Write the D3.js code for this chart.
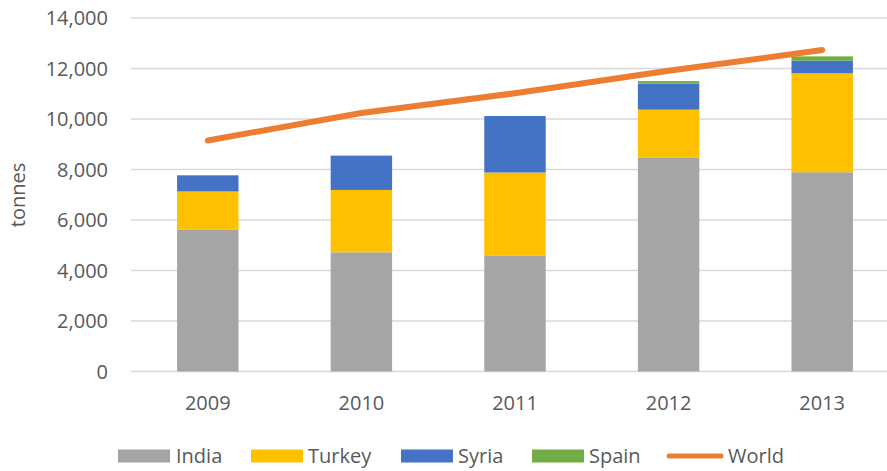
<!DOCTYPE html>
<html>
<head>
<meta charset="utf-8">
<script src="https://cdn.jsdelivr.net/npm/d3@7.9.0/dist/d3.min.js"></script>
<style>
  body { margin: 0; background: #fff; }
  svg text { font-family: "Open Sans", sans-serif; fill: #595959; }
</style>
</head>
<body>
<svg id="chart" width="887" height="471"></svg>
<script>
const years = ['2009', '2010', '2011', '2012', '2013'];
const seriesNames = ['India', 'Turkey', 'Syria', 'Spain'];
const india = [5610, 4720, 4580, 8460, 7890];
const turkey = [1520, 2470, 3300, 1910, 3920];
const syria = [640, 1360, 2240, 1030, 500];
const spain = [0, 0, 0, 100, 170];
const world = [9150, 10240, 11020, 11910, 12730];
const yTicks = [0, 2000, 4000, 6000, 8000, 10000, 12000, 14000];

const colors = { India: '#a5a5a5', Turkey: '#ffc000', Syria: '#4472c4', Spain: '#70ad47', World: '#ed7d31' };

const svg = d3.select('#chart');

const x = d3.scaleBand().domain(years).range([131, 899]);
const y = d3.scaleLinear().domain([0, 14000]).range([371.5, 18]);
const barW = x.bandwidth() * 0.4;

// gridlines
svg.append('g').selectAll('line').data(yTicks).join('line')
  .attr('x1', 131).attr('x2', 887)
  .attr('y1', d => y(d)).attr('y2', d => y(d))
  .attr('stroke', '#d9d9d9').attr('stroke-width', 1.5);

// y tick labels
svg.append('g').selectAll('text').data(yTicks).join('text')
  .attr('x', 108).attr('y', d => y(d)).attr('dy', '0.35em')
  .attr('text-anchor', 'end').attr('font-size', 20)
  .text(d => d3.format(',')(d));

// axis title
svg.append('text')
  .attr('transform', 'translate(25,195) rotate(-90)')
  .attr('text-anchor', 'middle').attr('font-size', 20)
  .text('tonnes');

// stacked bars
const rows = years.map((yr, i) => ({ year: yr, India: india[i], Turkey: turkey[i], Syria: syria[i], Spain: spain[i] }));
const stacked = d3.stack().keys(seriesNames)(rows);

svg.append('g').selectAll('g').data(stacked).join('g')
  .attr('fill', d => colors[d.key])
  .selectAll('rect').data(d => d).join('rect')
  .attr('x', d => x(d.data.year) + x.bandwidth() / 2 - barW / 2)
  .attr('width', barW)
  .attr('y', d => y(d[1]))
  .attr('height', d => y(d[0]) - y(d[1]));

// world line
const line = d3.line()
  .x((d, i) => x(years[i]) + x.bandwidth() / 2)
  .y(d => y(d));
svg.append('path').datum(world)
  .attr('d', line)
  .attr('fill', 'none').attr('stroke', colors.World)
  .attr('stroke-width', 6).attr('stroke-linecap', 'round');

// x labels
svg.append('g').selectAll('text').data(years).join('text')
  .attr('x', d => x(d) + x.bandwidth() / 2).attr('y', 410)
  .attr('text-anchor', 'middle').attr('font-size', 20)
  .text(d => d);

// legend
const legendItems = [
  { name: 'India', x: 118, textX: 176 },
  { name: 'Turkey', x: 251, textX: 308 },
  { name: 'Syria', x: 401, textX: 458 },
  { name: 'Spain', x: 532, textX: 589 },
  { name: 'World', x: 667, textX: 728 }
];
const lg = svg.append('g');
legendItems.forEach(it => {
  if (it.name === 'World') {
    lg.append('line').attr('x1', it.x + 2).attr('x2', it.x + 54)
      .attr('y1', 456).attr('y2', 456)
      .attr('stroke', colors.World).attr('stroke-width', 5).attr('stroke-linecap', 'round');
  } else {
    lg.append('rect').attr('x', it.x).attr('y', 449.5).attr('width', 52).attr('height', 13)
      .attr('fill', colors[it.name]);
  }
  lg.append('text').attr('x', it.textX).attr('y', 456).attr('dy', '0.35em')
    .attr('font-size', 20).text(it.name);
});
</script>
</body>
</html>
